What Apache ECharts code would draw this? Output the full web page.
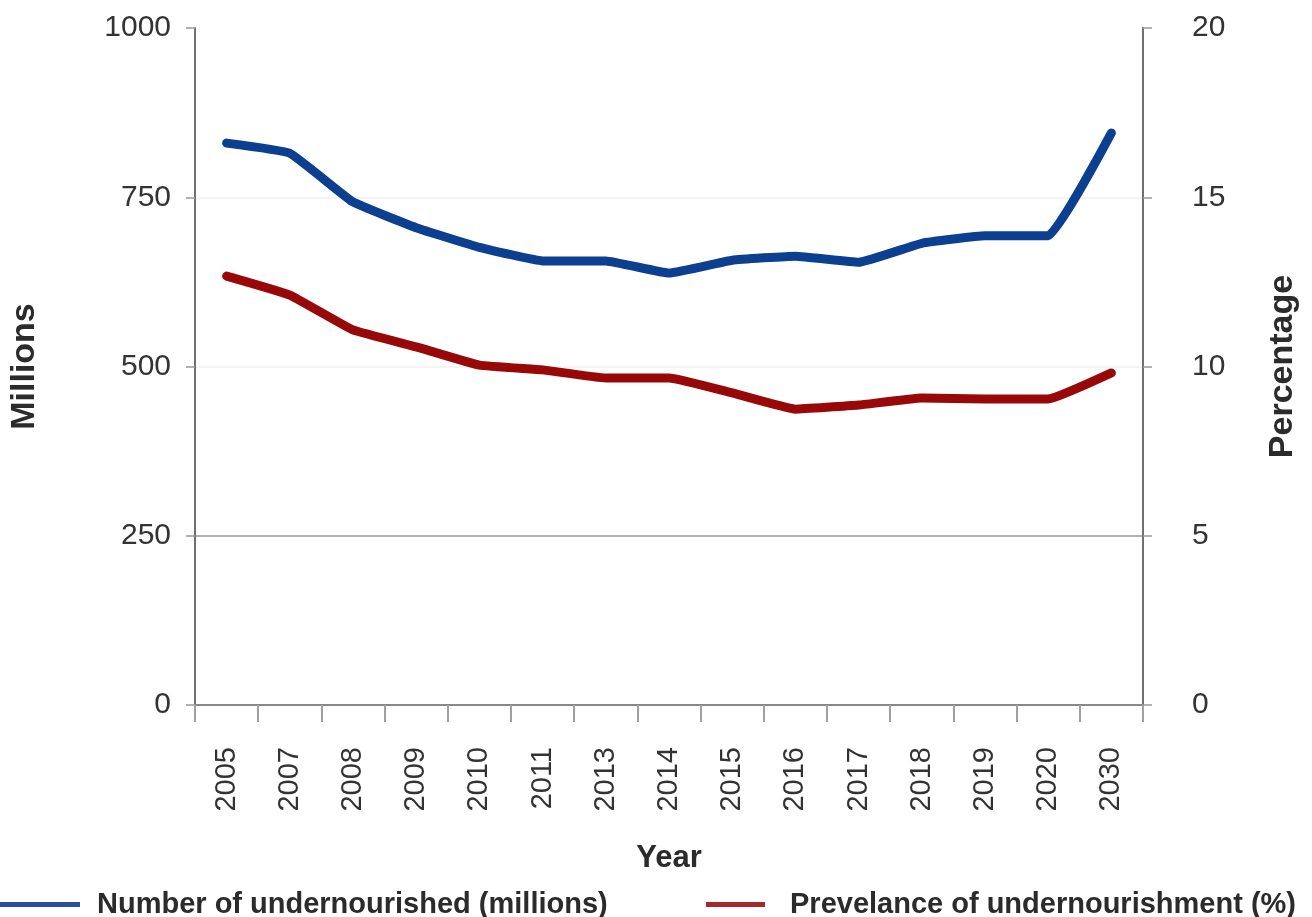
<!DOCTYPE html>
<html>
<head>
<meta charset="utf-8">
<script src="https://cdn.jsdelivr.net/npm/echarts@6/dist/echarts.min.js"></script>
<style>
  html, body { margin: 0; padding: 0; background: #fff; }
  #main { width: 1312px; height: 917px; }
</style>
</head>
<body>
<div id="main"></div>
<script>
// categories and values
var years = ['2005', '2007', '2008', '2009', '2010', '2011', '2013', '2014', '2015', '2016', '2017', '2018', '2019', '2020', '2030'];
var undernourished = [830, 815, 743, 705, 676, 656, 656, 638, 657, 663, 654, 682, 693, 693, 845];
var prevalence = [12.67, 12.11, 11.08, 10.58, 10.04, 9.9, 9.66, 9.66, 9.22, 8.74, 8.86, 9.07, 9.04, 9.04, 9.81];
var leftTicks = [0, 250, 500, 750, 1000];
var rightTicks = [0, 5, 10, 15, 20];

var font = 'Liberation Sans, Arial, Helvetica, sans-serif';
var axisGrey = '#707070';
var nameBlue = 'Number of undernourished (millions)';
var nameRed = 'Prevelance of undernourishment (%)';

var myChart = echarts.init(document.getElementById('main'));
myChart.setOption({
    animation: false,
    textStyle: { fontFamily: font },
    grid: { left: 195, right: 169, top: 28, bottom: 212 },
    legend: [
        {
            left: -5,
            top: 885,
            itemWidth: 80,
            itemHeight: 5,
            icon: 'rect',
            textStyle: { fontSize: 29, fontWeight: 'bold', color: '#2b2b2b', fontFamily: font, padding: [0, 0, 0, 12] },
            data: [{ name: nameBlue, itemStyle: { color: '#2a4f9c' } }]
        },
        {
            left: 701,
            top: 885,
            itemWidth: 59,
            itemHeight: 5,
            icon: 'rect',
            textStyle: { fontSize: 29, fontWeight: 'bold', color: '#2b2b2b', fontFamily: font, padding: [0, 0, 0, 20] },
            data: [{ name: nameRed, itemStyle: { color: '#a22a2a' } }]
        }
    ],
    xAxis: {
        type: 'category',
        data: years,
        boundaryGap: true,
        name: 'Year',
        nameLocation: 'middle',
        nameGap: 138,
        nameTextStyle: { fontSize: 31, fontWeight: 'bold', color: '#2b2b2b' },
        axisLine: { lineStyle: { color: '#888', width: 2 } },
        axisTick: { show: true, alignWithLabel: false, length: 17, lineStyle: { color: '#a0a0a0', width: 2 } },
        axisLabel: { rotate: 90, fontSize: 29, color: '#333', margin: 42, interval: 0 }
    },
    yAxis: [
        {
            type: 'value',
            min: leftTicks[0],
            max: leftTicks[leftTicks.length - 1],
            interval: 250,
            name: 'Millions',
            nameLocation: 'middle',
            nameGap: 153,
            nameRotate: 90,
            nameTextStyle: { fontSize: 34, fontWeight: 'bold', color: '#2b2b2b' },
            axisLine: { show: true, lineStyle: { color: axisGrey, width: 2 } },
            axisTick: { show: true, length: 9, lineStyle: { color: '#999', width: 1.5 } },
            axisLabel: { fontSize: 30, color: '#333', margin: 24, formatter: function (v) { return String(v); } },
            splitLine: { show: true, lineStyle: { color: ['rgba(0,0,0,0)', '#9a9a9a', '#f1f1f1', '#f1f1f1', 'rgba(0,0,0,0)'], width: 1.5 } }
        },
        {
            type: 'value',
            min: rightTicks[0],
            max: rightTicks[rightTicks.length - 1],
            interval: 5,
            position: 'right',
            name: 'Percentage',
            nameLocation: 'middle',
            nameGap: 123,
            nameRotate: 90,
            nameTextStyle: { fontSize: 34, fontWeight: 'bold', color: '#2b2b2b' },
            axisLine: { show: true, lineStyle: { color: axisGrey, width: 2 } },
            axisTick: { show: true, length: 9, lineStyle: { color: '#999', width: 1.5 } },
            axisLabel: { fontSize: 30, color: '#333', margin: 49 },
            splitLine: { show: false }
        }
    ],
    series: [
        {
            name: nameBlue,
            type: 'line',
            yAxisIndex: 0,
            data: undernourished,
            smooth: 0.1,
            showSymbol: false,
            lineStyle: { color: '#0d3f91', width: 9, cap: 'round', join: 'round' },
            itemStyle: { color: '#2a4f9c' }
        },
        {
            name: nameRed,
            type: 'line',
            yAxisIndex: 1,
            data: prevalence,
            smooth: 0.1,
            showSymbol: false,
            lineStyle: { color: '#990808', width: 9, cap: 'round', join: 'round' },
            itemStyle: { color: '#a22a2a' }
        }
    ]
});
</script>
</body>
</html>
